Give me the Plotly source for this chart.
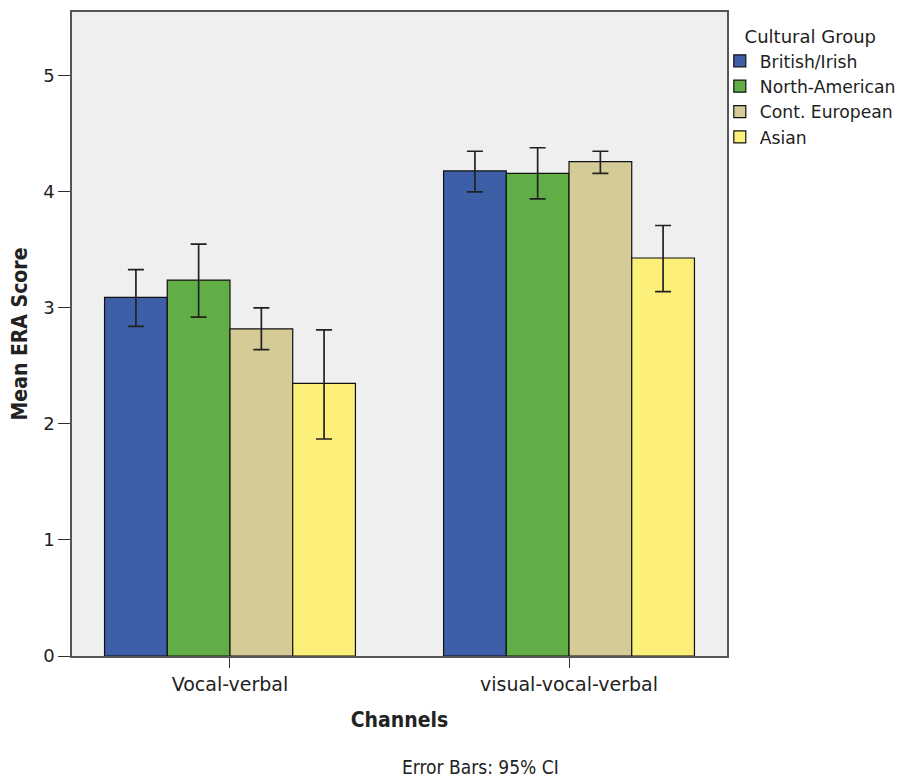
import plotly.graph_objects as go

channels = ["Vocal-verbal", "visual-vocal-verbal"]
groups = ["British/Irish", "North-American", "Cont. European", "Asian"]
colors = ["#3d5fa8", "#62ae46", "#d5cb97", "#fcef7a"]
means = {
    "British/Irish": [3.09, 4.18],
    "North-American": [3.24, 4.16],
    "Cont. European": [2.82, 4.26],
    "Asian": [2.35, 3.43],
}
ci_upper = {
    "British/Irish": [3.33, 4.35],
    "North-American": [3.55, 4.38],
    "Cont. European": [3.00, 4.35],
    "Asian": [2.81, 3.71],
}
ci_lower = {
    "British/Irish": [2.84, 4.00],
    "North-American": [2.92, 3.94],
    "Cont. European": [2.64, 4.16],
    "Asian": [1.87, 3.14],
}
y_ticks = [0, 1, 2, 3, 4, 5]

main_font = "DejaVu Sans, sans-serif"
cond_font = "DejaVu Sans Condensed, DejaVu Sans, sans-serif"

fig = go.Figure()
for g, c in zip(groups, colors):
    m = means[g]
    up = [u - v for u, v in zip(ci_upper[g], m)]
    lo = [v - l for l, v in zip(ci_lower[g], m)]
    fig.add_trace(go.Bar(
        name=g, x=channels, y=m,
        marker=dict(color=c, line=dict(color="#111111", width=1.2)),
        error_y=dict(type="data", symmetric=False, array=up, arrayminus=lo,
                     color="#222222", thickness=1.7, width=8),
    ))

fig.update_layout(
    width=912, height=770,
    barmode="group", bargap=0.26, bargroupgap=0,
    plot_bgcolor="#efefef", paper_bgcolor="white",
    margin=dict(l=64, r=193, t=2, b=122),
    font=dict(family=main_font, size=19, color="#222222"),
    legend=dict(
        title=dict(text="Cultural Group", font=dict(size=18), side="top center"),
        x=0.989, xanchor="left", y=0.988, yanchor="top",
        font=dict(size=17.2), tracegroupgap=0, itemwidth=30,
        bgcolor="rgba(0,0,0,0)",
    ),
    xaxis=dict(
        range=[-0.466, 1.466], showline=True, linecolor="#555555", linewidth=1.5,
        mirror=True, ticks="outside", ticklen=10, tickcolor="#333333",
        tickfont=dict(size=19),
        title=dict(text="<b>Channels</b>", font=dict(size=21, family=cond_font), standoff=19),
        showgrid=False,
    ),
    yaxis=dict(
        range=[0, 5.55], tickvals=y_ticks, showline=True, linecolor="#555555",
        linewidth=1.5, mirror=True, ticks="outside", ticklen=12, tickcolor="#333333",
        tickfont=dict(size=18),
        title=dict(text="<b>Mean ERA Score</b>", font=dict(size=21, family=cond_font), standoff=14),
        showgrid=False, zeroline=False,
    ),
    annotations=[dict(
        text="Error Bars: 95% CI", xref="paper", yref="paper",
        x=0.624, y=-0.172, xanchor="center", yanchor="middle",
        showarrow=False, font=dict(size=19, family=cond_font),
    )],
)

fig.write_html("out.html")
